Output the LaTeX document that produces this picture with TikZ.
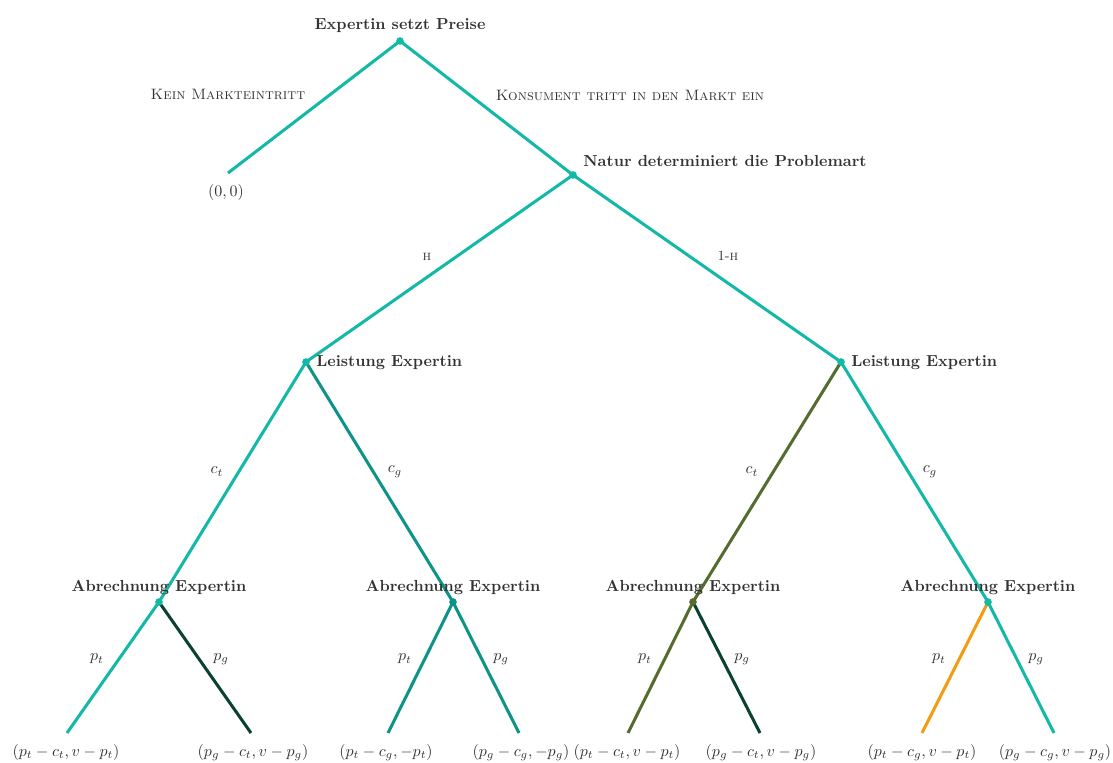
\documentclass[tikz,border=0pt]{standalone}
\usetikzlibrary{backgrounds,calc}
\definecolor{turq}{HTML}{14B8A6}
\definecolor{gsea}{HTML}{0D9488}
\definecolor{dgreen}{HTML}{0B4131}
\definecolor{olivegr}{HTML}{556B2F}
\definecolor{orng}{HTML}{F39C12}
\definecolor{txt}{HTML}{333333}
\begin{document}
\begin{tikzpicture}[x=0.625pt,y=-0.625pt,
  dot/.style={circle,fill=#1,inner sep=0pt,minimum size=4.8pt},
  edge/.style={line width=1.9pt,draw=#1},
  title/.style={font=\bfseries,text=txt,anchor=base,inner sep=0pt},
  elab/.style={text=txt,inner sep=0pt},
  sclab/.style={text=txt,inner sep=0pt,anchor=base,font=\fontsize{9.4}{11}\selectfont},
  payoff/.style={text=txt,anchor=base,inner sep=0pt}]
\useasboundingbox (0,0) rectangle (1113,763);

% decision nodes
\node[dot=turq] (root) at (400,41) {};
\node[dot=turq] (nat) at (573,175) {};
\node[dot=turq] (lL) at (306,362) {};
\node[dot=turq] (lR) at (841,362) {};
\node[dot=turq] (a1) at (159,602) {};
\node[dot=gsea] (a2) at (453,602) {};
\node[dot=olivegr] (a3) at (693,602) {};
\node[dot=turq] (a4) at (988,602) {};

% leaves
\coordinate (f0) at (228,173);
\coordinate (f1) at (67,733);
\coordinate (f2) at (251,733);
\coordinate (f3) at (388,733);
\coordinate (f4) at (519,733);
\coordinate (f5) at (628,733);
\coordinate (f6) at (760,733);
\coordinate (f7) at (922,733);
\coordinate (f8) at (1054,733);

% edges
\begin{scope}[on background layer]
\draw[edge=turq] (root.center) -- (f0);
\draw[edge=turq] (root.center) -- (nat.center);
\draw[edge=turq] (nat.center) -- (lL.center);
\draw[edge=turq] (nat.center) -- (lR.center);
\draw[edge=turq] (lL.center) -- (a1.center);
\draw[edge=gsea] (lL.center) -- (a2.center);
\draw[edge=olivegr] (lR.center) -- (a3.center);
\draw[edge=turq] (lR.center) -- (a4.center);
\draw[edge=turq] (a1.center) -- (f1);
\draw[edge=dgreen] (a1.center) -- (f2);
\draw[edge=gsea] (a2.center) -- (f3);
\draw[edge=gsea] (a2.center) -- (f4);
\draw[edge=olivegr] (a3.center) -- (f5);
\draw[edge=dgreen] (a3.center) -- (f6);
\draw[edge=orng] (a4.center) -- (f7);
\draw[edge=turq] (a4.center) -- (f8);
\end{scope}

% node titles
\node[title] (troot) at (400,29.5) {Expertin setzt Preise};
\node[title,anchor=base west] (tnat) at (583,167) {Natur determiniert die Problemart};
\node[title,anchor=base west] (tlL) at (316,367) {Leistung Expertin};
\node[title,anchor=base west] (tlR) at (851,367) {Leistung Expertin};
\node[title] (ta1) at (159,591.5) {Abrechnung Expertin};
\node[title] (ta2) at (453,591.5) {Abrechnung Expertin};
\node[title] (ta3) at (693,591.5) {Abrechnung Expertin};
\node[title] (ta4) at (988,591.5) {Abrechnung Expertin};

% edge labels
\node[sclab] (lk) at (228,100) {\textsc{Kein Markteintritt}};
\node[sclab] (lm) at (630,100.5) {\textsc{Konsument tritt in den Markt ein}};
\node[elab,anchor=base,font=\fontsize{8.8}{10}\selectfont] (lh) at (427,260.5) {\textsc{h}};
\node[elab,anchor=base,font=\fontsize{8.8}{10}\selectfont] (l1h) at (728,260.5) {1-\textsc{h}};
\node[elab] (ct1) at (217,471.5) {$c_t$};
\node[elab] (cg1) at (395,471.5) {$c_g$};
\node[elab] (ct2) at (752,471.5) {$c_t$};
\node[elab] (cg2) at (930,471.5) {$c_g$};
\node[elab] (pt1) at (97,659) {$p_t$};
\node[elab] (pg1) at (221,659) {$p_g$};
\node[elab] (pt2) at (405,659) {$p_t$};
\node[elab] (pg2) at (501,659) {$p_g$};
\node[elab] (pt3) at (645,659) {$p_t$};
\node[elab] (pg3) at (742,659) {$p_g$};
\node[elab] (pt4) at (939,659) {$p_t$};
\node[elab] (pg4) at (1036,659) {$p_g$};

% payoffs
\node[payoff] (pay0) at ($(f0)+(-2,24)$) {$(0,0)$};
\node[payoff] (pay1) at ($(f1)+(-1,23.5)$) {$(p_t-c_t,v-p_t)$};
\node[payoff] (pay2) at ($(f2)+(2,23.5)$) {$(p_g-c_t,v-p_g)$};
\node[payoff] (pay3) at ($(f3)+(-2,23.5)$) {$(p_t-c_g,-p_t)$};
\node[payoff] (pay4) at ($(f4)+(2,23.5)$) {$(p_g-c_g,-p_g)$};
\node[payoff] (pay5) at ($(f5)+(-1,23.5)$) {$(p_t-c_t,v-p_t)$};
\node[payoff] (pay6) at ($(f6)+(1,23.5)$) {$(p_g-c_t,v-p_g)$};
\node[payoff] (pay7) at ($(f7)+(0,23.5)$) {$(p_t-c_g,v-p_t)$};
\node[payoff] (pay8) at ($(f8)+(1,23.5)$) {$(p_g-c_g,v-p_g)$};
\end{tikzpicture}
\end{document}
